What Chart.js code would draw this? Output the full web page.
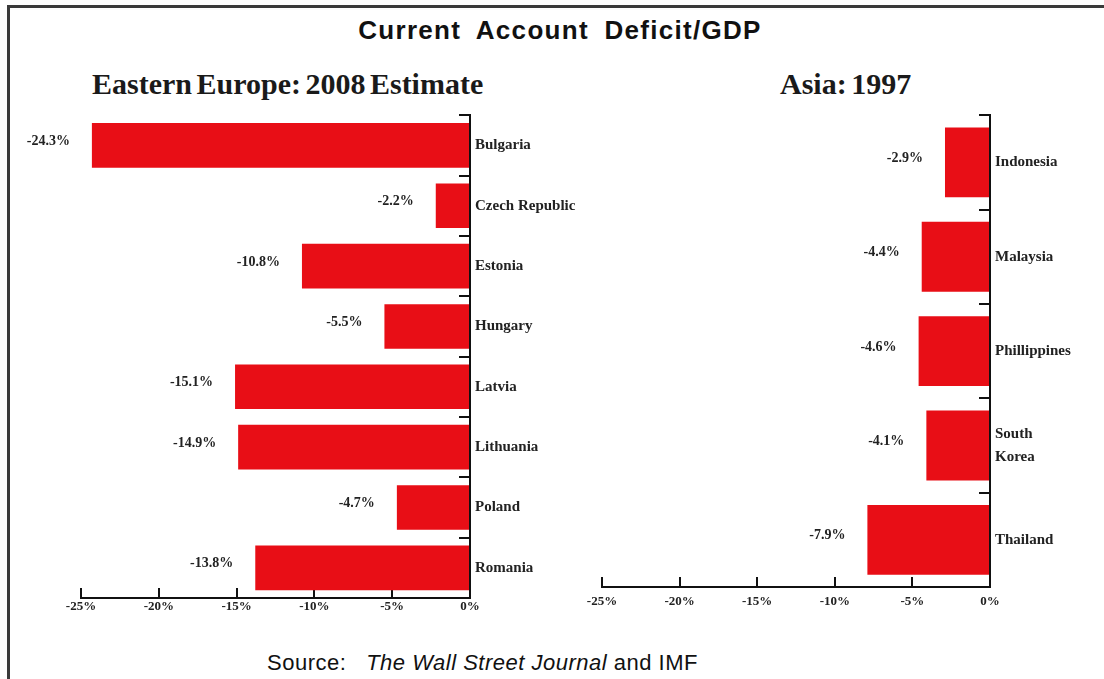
<!DOCTYPE html>
<html>
<head>
<meta charset="utf-8">
<title>Current Account Deficit/GDP</title>
<script src="https://cdn.jsdelivr.net/npm/chart.js@4/dist/chart.umd.min.js"></script>
<style>
  html, body { margin: 0; padding: 0; background: #fff; }
  body { width: 1104px; height: 679px; position: relative; overflow: hidden; }
  .frame {
    position: absolute; left: 7px; top: 5px; right: -10px; bottom: -10px;
    border-left: 3px solid #3a3a3a; border-top: 3px solid #3a3a3a;
  }
  .titulo {
    position: absolute; left: 0; width: 1120px; top: 15px; text-align: center;
    font: bold 26px "Liberation Sans", Arial, sans-serif; letter-spacing: 1.3px; word-spacing: 7px; color: #111;
  }
  .sub {
    position: absolute; top: 67px; font: bold 30px "Liberation Serif", "Times New Roman", serif;
    word-spacing: -3px; color: #1a1a1a;
  }
  .fonte {
    position: absolute; left: 267px; top: 650px; font: 22px "Liberation Sans", Arial, sans-serif;
    letter-spacing: 0.5px; color: #111;
  }
  .painel { position: absolute; }
</style>
</head>
<body>
<div class="frame"></div>
<div class="titulo">Current Account Deficit/GDP</div>
<div class="sub" style="left:92px">Eastern Europe: 2008 Estimate</div>
<div class="sub" style="left:780px">Asia: 1997</div>
<div class="painel" style="left:8px; top:88px; width:582px; height:550px;"><canvas id="graficoEuropa"></canvas></div>
<div class="painel" style="left:562px; top:88px; width:538px; height:539px;"><canvas id="graficoAsia"></canvas></div>
<div class="fonte">Source:&nbsp;&nbsp; <i>The Wall Street Journal</i> and IMF</div>

<script>
// Déficit em conta corrente / PIB (%)
const paisesEuropa = ['Bulgaria', 'Czech Republic', 'Estonia', 'Hungary', 'Latvia', 'Lithuania', 'Poland', 'Romania'];
const deficitEuropa = [-24.3, -2.2, -10.8, -5.5, -15.1, -14.9, -4.7, -13.8];

const paisesAsia = ['Indonesia', 'Malaysia', 'Phillippines', ['South', 'Korea'], 'Thailand'];
const deficitAsia = [-2.9, -4.4, -4.6, -4.1, -7.9];

const escalaMin = -25;
const escalaMax = 0;
const passoEscala = 5;

const VERMELHO = 'rgb(232, 14, 22)';
const FONTE_SERIF = '"Liberation Serif", "Times New Roman", serif';

// Escreve o valor à esquerda da ponta de cada barra
const rotuloValores = {
    id: 'rotuloValores',
    afterDatasetsDraw(chart) {
        const { ctx } = chart;
        const meta = chart.getDatasetMeta(0);
        const dados = chart.data.datasets[0].data;
        ctx.save();
        ctx.font = 'bold 14px ' + FONTE_SERIF;
        ctx.fillStyle = '#222';
        ctx.textAlign = 'right';
        ctx.textBaseline = 'middle';
        meta.data.forEach((barra, i) => {
            ctx.fillText(dados[i].toFixed(1) + '%', barra.x - 22, barra.y - 4);
        });
        ctx.restore();
    }
};

function criarGrafico(idCanvas, categorias, valores, margemEsq, larguraRotulos, folgaEixoX) {
    const ctx = document.getElementById(idCanvas).getContext('2d');
    return new Chart(ctx, {
        type: 'bar',
        data: {
            labels: categorias,
            datasets: [{
                data: valores,
                backgroundColor: VERMELHO,
                borderWidth: 0,
                barPercentage: 0.74,
                categoryPercentage: 1
            }]
        },
        options: {
            indexAxis: 'y',
            responsive: true,
            maintainAspectRatio: false,
            animation: false,
            layout: { padding: { left: margemEsq, top: 0, right: 0, bottom: 0 } },
            plugins: {
                legend: { display: false },
                tooltip: { enabled: false }
            },
            scales: {
                x: {
                    min: escalaMin,
                    max: escalaMax,
                    grid: { drawOnChartArea: false, color: '#111', tickLength: -10, lineWidth: 2 },
                    border: { color: '#111', width: 2 },
                    ticks: {
                        stepSize: passoEscala,
                        padding: folgaEixoX,
                        color: '#222',
                        font: { family: FONTE_SERIF, size: 13, weight: 'bold' },
                        maxRotation: 0,
                        callback: v => v + '%'
                    },
                    // altura fixa: o eixo x domina a margem inferior
                    afterFit: s => { s.height = 40; }
                },
                y: {
                    position: 'right',
                    offset: true,
                    grid: { drawOnChartArea: false, offset: true, color: '#111', tickLength: -11, lineWidth: 2 },
                    border: { color: '#111', width: 2 },
                    ticks: {
                        padding: 16,
                        color: '#222',
                        crossAlign: 'near',
                        font: { family: FONTE_SERIF, size: 15, weight: 'bold', lineHeight: 1.5 }
                    },
                    afterFit: s => { s.width = larguraRotulos; }
                }
            }
        },
        plugins: [rotuloValores]
    });
}

criarGrafico('graficoEuropa', paisesEuropa, deficitEuropa, 73, 120, 11);
criarGrafico('graficoAsia', paisesAsia, deficitAsia, 40, 110, 17);
</script>
</body>
</html>
